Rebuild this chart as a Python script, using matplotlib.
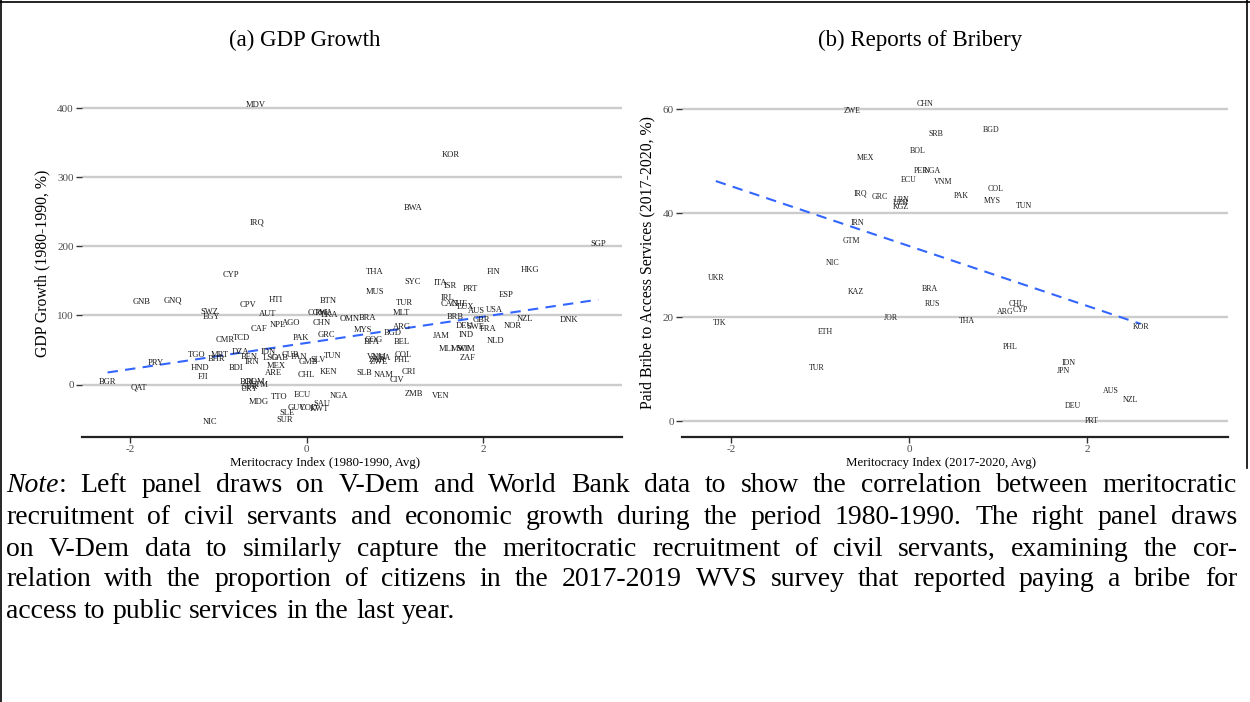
import matplotlib.pyplot as plt
import numpy as np

plt.rcParams['font.family'] = ['Liberation Serif', 'DejaVu Serif']

# ---- panel (a): meritocracy 1980-1990 vs GDP growth ----
gdp_iso = ['MDV', 'KOR', 'IRQ', 'BWA', 'SGP', 'HKG', 'FIN', 'THA', 'SYC', 'ITA',
           'ISR', 'PRT', 'MUS', 'ESP', 'IRL', 'TUR', 'CAN', 'CHE', 'LUX', 'AUS',
           'USA', 'MLT', 'BRB', 'NZL', 'DNK', 'GBR', 'OMN', 'BRA', 'DEU', 'SWE',
           'NOR', 'FRA', 'ARG', 'MYS', 'BGD', 'JAM', 'IND', 'NLD', 'COG', 'BFA',
           'BEL', 'MLI', 'MWI', 'SOM', 'ZAF', 'COL', 'PHL', 'VNM', 'UGA', 'ZWE',
           'ZAR', 'SLB', 'NAM', 'CRI', 'CIV', 'ZMB', 'VEN', 'NGA', 'KEN', 'TUN',
           'SLV', 'GMB', 'PAN', 'CUB', 'GRC', 'PAK', 'CHN', 'COM', 'RWA', 'LKA',
           'BTN', 'HTI', 'CYP', 'GNB', 'GNQ', 'CPV', 'SWZ', 'EGY', 'AUT', 'NPL',
           'AGO', 'CAF', 'TCD', 'CMR', 'TGO', 'MRT', 'BHR', 'DZA', 'BEN', 'IRN',
           'IDN', 'LSO', 'GAB', 'MEX', 'ARE', 'CHL', 'HND', 'FJI', 'BDI', 'PRY',
           'BGR', 'QAT', 'BOL', 'ROM', 'SYR', 'GTM', 'URY', 'MDG', 'TTO', 'ECU',
           'SAU', 'GUY', 'COD', 'KWT', 'SLE', 'SUR', 'NIC']
gdp_merit = [-0.58, 1.64, -0.56, 1.21, 3.31, 2.53, 2.12, 0.77, 1.20, 1.52,
             1.63, 1.86, 0.78, 2.26, 1.60, 1.11, 1.62, 1.73, 1.80, 1.93,
             2.13, 1.08, 1.69, 2.48, 2.98, 1.98, 0.49, 0.69, 1.79, 1.91,
             2.34, 2.06, 1.08, 0.64, 0.98, 1.53, 1.81, 2.15, 0.76, 0.74,
             1.08, 1.59, 1.74, 1.80, 1.83, 1.10, 1.08, 0.80, 0.86, 0.82,
             0.80, 0.65, 0.88, 1.16, 1.02, 1.22, 1.52, 0.37, 0.25, 0.29,
             0.13, 0.02, -0.09, -0.19, 0.23, -0.06, 0.17, 0.12, 0.20, 0.26,
             0.24, -0.35, -0.86, -1.87, -1.52, -0.67, -1.11, -1.08, -0.44, -0.33,
             -0.18, -0.54, -0.74, -0.93, -1.25, -0.99, -1.02, -0.75, -0.65, -0.62,
             -0.43, -0.41, -0.31, -0.35, -0.38, 0.00, -1.21, -1.18, -0.80, -1.71,
             -2.26, -1.90, -0.66, -0.58, -0.65, -0.54, -0.65, -0.54, -0.31, -0.05,
             0.17, -0.11, 0.02, 0.14, -0.22, -0.25, -1.10]
gdp_growth = [405, 332, 235, 256, 203, 166, 163, 163, 149, 147,
              143, 139, 134, 130, 126, 118, 116, 116, 112, 107,
              108, 103, 98, 95, 94, 93, 95, 96, 85, 83,
              85, 81, 83, 79, 74, 71, 72, 63, 65, 61,
              61, 52, 52, 52, 39, 43, 36, 40, 38, 33,
              35, 17, 14, 18, 7, -14, -17, -16, 18, 41,
              35, 32, 40, 43, 72, 68, 89, 103, 104, 100,
              121, 123, 159, 120, 121, 115, 105, 98, 102, 86,
              89, 81, 68, 65, 43, 43, 37, 47, 40, 32,
              47, 39, 39, 27, 16, 14, 24, 11, 24, 31,
              4, -5, 4, 3, -3, -1, -6, -25, -18, -15,
              -28, -34, -34, -35, -41, -51, -54]

# ---- panel (b): meritocracy 2017-2020 vs bribery reports ----
brib_iso = ['CHN', 'ZWE', 'SRB', 'BGD', 'BOL', 'MEX', 'PER', 'NGA', 'ECU', 'VNM',
            'COL', 'PAK', 'MYS', 'TUN', 'IRQ', 'GRC', 'LBN', 'UZB', 'KGZ', 'IRN',
            'GTM', 'NIC', 'UKR', 'KAZ', 'BRA', 'RUS', 'CHL', 'ARG', 'CYP', 'JOR',
            'THA', 'TJK', 'KOR', 'ETH', 'PHL', 'IDN', 'JPN', 'TUR', 'AUS', 'NZL',
            'DEU', 'PRT']
brib_merit = [0.18, -0.64, 0.30, 0.92, 0.10, -0.49, 0.13, 0.26, -0.01, 0.38,
              0.97, 0.58, 0.93, 1.29, -0.55, -0.33, -0.08, -0.10, -0.09, -0.58,
              -0.65, -0.86, -2.17, -0.60, 0.23, 0.26, 1.21, 1.08, 1.25, -0.21,
              0.65, -2.13, 2.60, -0.94, 1.14, 1.79, 1.73, -1.04, 2.26, 2.49,
              1.84, 2.05]
brib_share = [60.9, 59.6, 55.2, 56.0, 52.0, 50.6, 48.1, 48.1, 46.3, 46.0,
              44.6, 43.3, 42.3, 41.3, 43.7, 43.0, 42.5, 42.0, 41.2, 38.1,
              34.7, 30.4, 27.6, 24.8, 25.4, 22.6, 22.6, 21.0, 21.3, 19.9,
              19.3, 18.9, 18.1, 17.1, 14.2, 11.2, 9.7, 10.3, 5.8, 4.0,
              2.9, 0.0]

W, H = 1250, 702
fig = plt.figure(figsize=(W / 100, H / 100), dpi=100)


def box(l, r, t, b):
    return [l / W, 1 - b / H, (r - l) / W, (b - t) / H]


def panel(ax, x, y, iso, ylim, yticks, xlabel, ylabel, fs, xlab_pos):
    ax.set_xlim(-2.55, 3.58)
    ax.set_ylim(*ylim)
    for s in ['top', 'right', 'left']:
        ax.spines[s].set_visible(False)
    ax.spines['bottom'].set_linewidth(1.6)
    ax.spines['bottom'].set_color('#222222')
    ax.set_yticks(yticks)
    ax.set_xticks([-2, 0, 2])
    ax.set_xticklabels(['-2', '0', '2'])
    ax.grid(axis='y', color='#cccccc', linewidth=1.7)
    ax.set_axisbelow(True)
    ax.tick_params(axis='both', length=4, width=1.0, color='#333333',
                   labelsize=8, labelcolor='#4d4d4d', pad=2)
    for xi, yi, t in zip(x, y, iso):
        ax.text(xi, yi, t, fontsize=fs, ha='center', va='center', color='#1a1a1a')
    xs = np.array([min(x), max(x)])
    b1, b0 = np.polyfit(x, y, 1)
    ax.plot(xs, b0 + b1 * xs, color='#3366FF', lw=1.5, ls=(0, (5, 3.5)))
    ax.set_xlabel(xlabel, fontsize=9.3)
    ax.xaxis.set_label_coords(xlab_pos, -0.058)
    ax.set_ylabel(ylabel, fontsize=11.3, labelpad=5)


ax1 = fig.add_axes(box(82, 622, 89, 437))
panel(ax1, gdp_merit, gdp_growth, gdp_iso, (-76, 428), [0, 100, 200, 300, 400],
      'Meritocracy Index (1980-1990, Avg)', 'GDP Growth (1980-1990, %)', 6.1, 0.45)

ax2 = fig.add_axes(box(682, 1228, 88, 437))
panel(ax2, brib_merit, brib_share, brib_iso, (-3.05, 64.05), [0, 20, 40, 60],
      'Meritocracy Index (2017-2020, Avg)',
      'Paid Bribe to Access Services (2017-2020, %)', 5.7, 0.474)

fig.text(305 / W, 1 - 40 / H, '(a) GDP Growth', fontsize=16.5, ha='center', va='center')
fig.text(920 / W, 1 - 40 / H, '(b) Reports of Bribery', fontsize=16.5, ha='center', va='center')

# page frame
fig.add_artist(plt.Line2D([0, 1], [1 - 1.5 / H] * 2, color='black', lw=1.2))
fig.add_artist(plt.Line2D([1.5 / W] * 2, [0, 1], color='black', lw=1.2))
fig.add_artist(plt.Line2D([1 - 3 / W] * 2, [1 - 468 / H, 1], color='black', lw=1.2))

# justified note below the panels
note_lines = [
    'Note: Left panel draws on V-Dem and World Bank data to show the correlation between meritocratic',
    'recruitment of civil servants and economic growth during the period 1980-1990. The right panel draws',
    'on V-Dem data to similarly capture the meritocratic recruitment of civil servants, examining the cor-',
    'relation with the proportion of citizens in the 2017-2019 WVS survey that reported paying a bribe for',
    'access to public services in the last year.',
]
x0, x1 = 6, 1237
line_y = [485, 517, 549, 580, 612]
note_fs = 20
renderer = fig.canvas.get_renderer()
for i, (line, yc) in enumerate(zip(note_lines, line_y)):
    pieces = []
    for w in line.split(' '):
        if w == 'Note:':
            pieces.append([('Note', 'italic'), (':', 'normal')])
        else:
            pieces.append([(w, 'normal')])
    arts = []
    widths = []
    for p in pieces:
        group = []
        wsum = 0
        for txt, style in p:
            t = fig.text(0, 1 - yc / H, txt, fontsize=note_fs, style=style,
                         va='center', ha='left')
            bb = t.get_window_extent(renderer)
            group.append((t, bb.width))
            wsum += bb.width
        arts.append(group)
        widths.append(wsum)
    if i < len(note_lines) - 1:
        gap = (x1 - x0 - sum(widths)) / (len(widths) - 1)
    else:
        gap = note_fs * 0.26 * 100 / 72
    x = x0
    for group, wsum in zip(arts, widths):
        xx = x
        for t, wd in group:
            t.set_x(xx / W)
            xx += wd
        x += wsum + gap

fig.savefig('out.png', dpi=100)
